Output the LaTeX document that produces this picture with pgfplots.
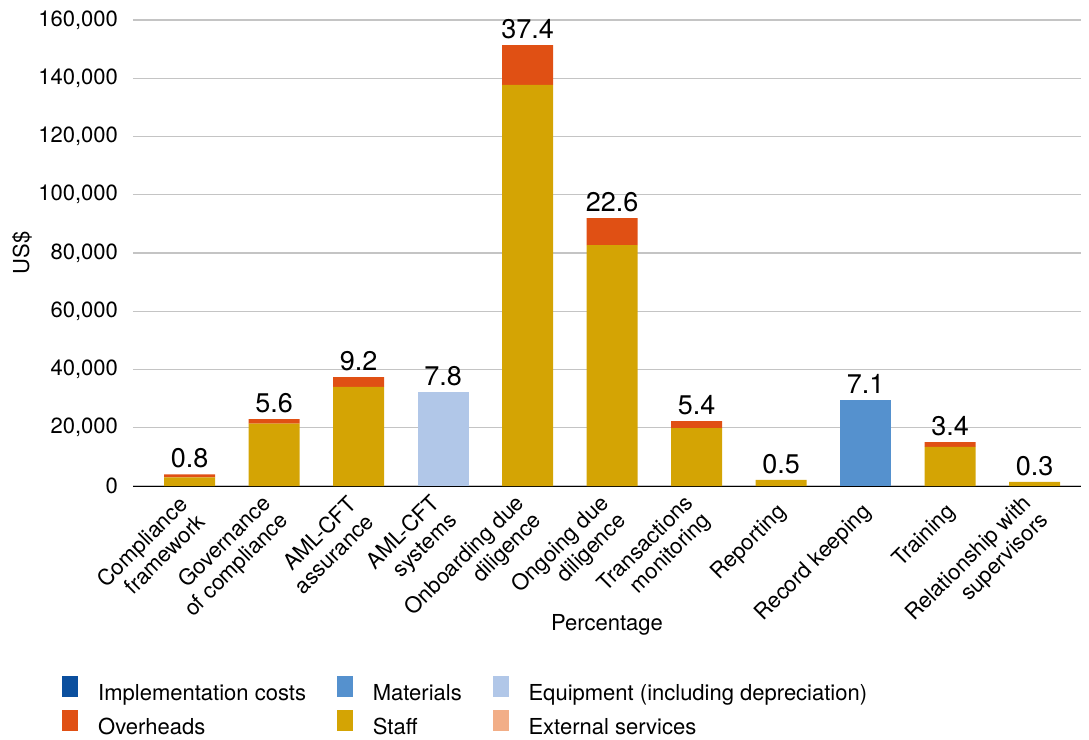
\documentclass[border=0pt]{standalone}
\usepackage{fontspec}
\setmainfont{TeX Gyre Heros}
\usepackage{pgfplots}
\pgfplotsset{compat=1.18}
\definecolor{impl}{HTML}{0B4F9E}
\definecolor{mater}{HTML}{5591CE}
\definecolor{equip}{HTML}{B1C7E8}
\definecolor{overh}{HTML}{E05014}
\definecolor{staff}{HTML}{D4A404}
\definecolor{extern}{HTML}{F2AE87}
\definecolor{gridc}{HTML}{C4C4C4}
\pgfplotsset{
  common/.style={
    scale only axis,
    width=474pt, height=233pt,
    xmin=-0.67, xmax=10.55,
    ymin=0, ymax=160000,
    enlarge x limits=false,
    enlarge y limits=false,
  }
}
\begin{document}
\begin{tikzpicture}
\begin{axis}[
  common,
  ybar stacked,
  bar width=25.5pt,
  axis x line*=bottom,
  axis y line*=left,
  x axis line style={black, line width=0.5pt},
  y axis line style={draw=none},
  ytick={0,20000,...,160000},
  scaled y ticks=false,
  /pgf/number format/fixed,
  /pgf/number format/precision=0,
  /pgf/number format/1000 sep={,},
  /pgf/number format/assume math mode=true,
  ymajorgrids,
  major grid style={gridc, line width=0.7pt},
  xtick=data,
  xtick style={draw=none},
  ytick style={draw=none},
  xticklabels={{Compliance\\framework},{Governance\\of compliance},{AML-CFT\\assurance},{AML-CFT\\systems},{Onboarding due\\diligence},{Ongoing due\\diligence},{Transactions\\monitoring},{Reporting},{Record keeping},{Training},{Relationship with\\supervisors}},
  x tick label style={rotate=45, anchor=east, align=right, inner sep=0pt, xshift=-7.2pt, yshift=-9pt, font=\fontsize{11}{12.2}\selectfont},
  y tick label style={font=\fontsize{11}{13}\selectfont, xshift=-4pt},
  xlabel={Percentage},
  ylabel={US\$},
  every axis x label/.style={at={(rel axis cs:0.5,0)}, anchor=center, yshift=-69.5pt, font=\fontsize{11}{13}\selectfont},
  every axis y label/.style={at={(rel axis cs:0,0.5)}, anchor=center, rotate=90, yshift=55.5pt, font=\fontsize{11}{13}\selectfont},
  legend columns=3,
  legend cell align=left,
  legend style={at={(rel axis cs:0,0)}, anchor=north west, xshift=-35.5pt, yshift=-95pt, draw=none, fill=none, inner sep=0pt, font=\fontsize{11}{13}\selectfont,
    nodes={inner sep=0pt, text height=8pt, text depth=2.5pt},
    row sep=2.5pt,
    /tikz/every odd column/.append style={column sep=10pt},
    /tikz/every even column/.append style={column sep=15.5pt}},
]
\addlegendimage{legend image code/.code={\fill[impl] (0pt,-1pt) rectangle (7.5pt,9pt);}}
\addlegendentry{Implementation costs}
\addlegendimage{legend image code/.code={\fill[mater] (0pt,-1pt) rectangle (7.5pt,9pt);}}
\addlegendentry{Materials}
\addlegendimage{legend image code/.code={\fill[equip] (0pt,-1pt) rectangle (7.5pt,9pt);}}
\addlegendentry{Equipment (including depreciation)}
\addlegendimage{legend image code/.code={\fill[overh] (0pt,-1pt) rectangle (7.5pt,9pt);}}
\addlegendentry{Overheads}
\addlegendimage{legend image code/.code={\fill[staff] (0pt,-1pt) rectangle (7.5pt,9pt);}}
\addlegendentry{Staff}
\addlegendimage{legend image code/.code={\fill[extern] (0pt,-1pt) rectangle (7.5pt,9pt);}}
\addlegendentry{External services}
% Staff
\addplot[fill=staff, draw=none, forget plot] coordinates {(0,3000) (1,21400) (2,34000) (3,0) (4,137700) (5,82700) (6,19900) (7,2100) (8,0) (9,13400) (10,1400)};
% Overheads
\addplot[fill=overh, draw=none, forget plot] coordinates {(0,1000) (1,1600) (2,3400) (3,0) (4,13700) (5,9300) (6,2400) (7,0) (8,0) (9,1700) (10,0)};
% Materials
\addplot[fill=mater, draw=none, forget plot] coordinates {(0,0) (1,0) (2,0) (3,0) (4,0) (5,0) (6,0) (7,0) (8,29500) (9,0) (10,0)};
% Equipment
\addplot[fill=equip, draw=none, forget plot] coordinates {(0,0) (1,0) (2,0) (3,32300) (4,0) (5,0) (6,0) (7,0) (8,0) (9,0) (10,0)};
\end{axis}
% Percentage labels at bar totals
\begin{axis}[
  common,
  axis lines=none,
  clip=false,
]
\addplot[only marks, mark=none, point meta=explicit symbolic,
  nodes near coords, nodes near coords style={font=\fontsize{13.5}{15}\selectfont, inner sep=0pt, anchor=south, yshift=3pt, text=black}]
  coordinates {(0,4000) [0.8] (1,23000) [5.6] (2,37400) [9.2] (3,32300) [7.8] (4,151400) [37.4] (5,92000) [22.6] (6,22300) [5.4] (7,2100) [0.5] (8,29500) [7.1] (9,15100) [3.4] (10,1400) [0.3]};
\end{axis}
\path ([xshift=-66.5pt,yshift=-127pt]current axis.south west) rectangle ++(544.5pt,370pt);
\end{tikzpicture}
\end{document}
